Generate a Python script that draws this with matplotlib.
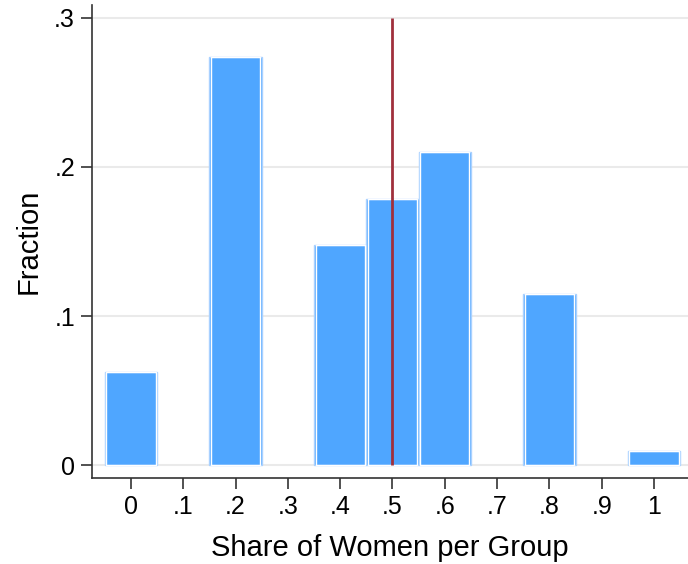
import matplotlib
matplotlib.use("Agg")
import matplotlib.pyplot as plt

plt.rcParams['font.family'] = ['Liberation Sans', 'DejaVu Sans']

bin_centers = [0.0, 0.2, 0.4, 0.5, 0.6, 0.8, 1.0]
fractions = [0.0626, 0.2736, 0.1474, 0.1787, 0.2103, 0.1148, 0.0094]
bin_width = 0.1
mean_line = 0.5
x_ticks = [0, 0.1, 0.2, 0.3, 0.4, 0.5, 0.6, 0.7, 0.8, 0.9, 1.0]
x_labels = ["0", ".1", ".2", ".3", ".4", ".5", ".6", ".7", ".8", ".9", "1"]
y_ticks = [0, 0.1, 0.2, 0.3]
y_labels = ["0", ".1", ".2", ".3"]

fig = plt.figure(figsize=(6.88, 5.64), dpi=100)
ax = fig.add_axes([91.7/688, (564-478)/564, (688-91.7)/688, (478-5)/564])

ax.set_xlim(-0.075, 1.065)
ax.set_ylim(-0.0087, 0.3087)

for yt in y_ticks:
    ax.axhline(yt, color='#eaeaea', lw=1.5, zorder=0)

ax.bar(bin_centers, fractions, width=bin_width, color='#4fa6ff',
       edgecolor='#a9d1ff', linewidth=1.0, zorder=2)
ax.bar(bin_centers, fractions, width=bin_width*0.94, color='none',
       edgecolor='white', linewidth=1.0, zorder=3)

ax.vlines(mean_line, 0, 0.3, color='#a0303c', lw=2, zorder=4)

ax.set_xticks(x_ticks)
ax.set_xticklabels(x_labels)
ax.set_yticks(y_ticks)
ax.set_yticklabels(y_labels)
ax.tick_params(axis='both', labelsize=18, length=8, width=1.2, color='#333333', pad=4)

for s in ['top', 'right']:
    ax.spines[s].set_visible(False)
for s in ['left', 'bottom']:
    ax.spines[s].set_linewidth(1.2)
    ax.spines[s].set_color('#333333')

ax.set_xlabel("Share of Women per Group", fontsize=21, labelpad=11)
ax.set_ylabel("Fraction", fontsize=21, labelpad=8)

fig.savefig("out.png", dpi=100)
